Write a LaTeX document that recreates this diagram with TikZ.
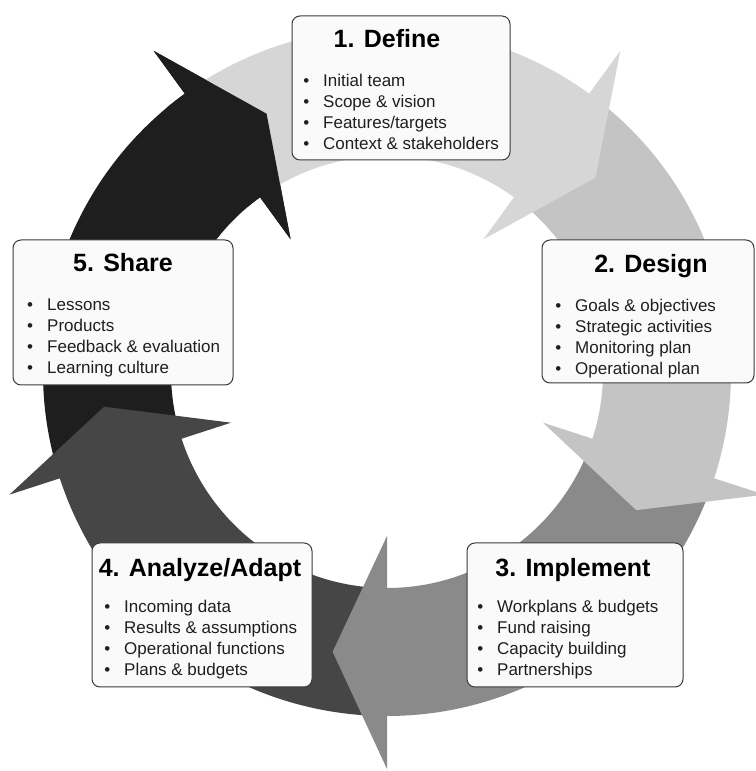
\documentclass[tikz,border=0pt]{standalone}
\usepackage{fontspec}
\setmainfont{Liberation Sans}
\usetikzlibrary{calc}
\definecolor{cDefine}{HTML}{D6D6D6}
\definecolor{cDesign}{HTML}{C4C4C4}
\definecolor{cImpl}{HTML}{8A8A8A}
\definecolor{cAnal}{HTML}{464646}
\definecolor{cShare}{HTML}{1E1E1E}
\definecolor{boxfill}{HTML}{FAFAFA}
\definecolor{boxline}{HTML}{3A3A3A}
\newcommand\myb{\llap{\textbullet\hspace{14pt}}}
\begin{document}
\begin{tikzpicture}[x=1pt,y=1pt,
  box/.style={draw=boxline, line width=1pt, fill=boxfill, rounded corners=8pt, inner sep=0pt},
  ttl/.style={font=\fontsize{25}{28}\selectfont\bfseries, inner sep=0pt, anchor=base, text=black},
  lst/.style={font=\fontsize{17}{20.7}\selectfont, inner sep=0pt, anchor=base west, text=black!88},
  ]
\useasboundingbox (0,0) rectangle (755,771);
\fill[white] (0,0) rectangle (755,771);
\coordinate (C) at (387,399);
\def\Rout{344}\def\Rin{216}\def\Wout{397}\def\Win{164}\def\Tip{285}
% arrows drawn in reverse order so each head lies over the next tail
\foreach \a/\col in {-234/cShare,-162/cAnal,-90/cImpl,-18/cDesign,54/cDefine}{
  \pgfmathsetmacro\b{\a+72}
  \pgfmathsetmacro\t{\a-11}
  \fill[\col] ($(C)+(\b:\Rout)$) arc[start angle=\b, end angle=\a, radius=\Rout]
    -- ($(C)+(\a:\Wout)$) -- ($(C)+(\t:\Tip)$) -- ($(C)+(\a:\Win)$)
    -- ($(C)+(\a:\Rin)$) arc[start angle=\a, end angle=\b, radius=\Rin] -- cycle;
}
% head of the Share arrow (with a bit of its shaft) over the Define tail
\fill[cShare] ($(C)+(130:\Rout)$) arc[start angle=130, end angle=126, radius=\Rout]
  -- ($(C)+(126:\Wout)$) -- ($(C)+(115:\Tip)$) -- ($(C)+(126:\Win)$)
  -- ($(C)+(126:\Rin)$) arc[start angle=126, end angle=130, radius=\Rin] -- cycle;

% boxes
\node[box, minimum width=218, minimum height=144] (b1) at (401,683) {};
\node[box, minimum width=212, minimum height=143] (b2) at (648,459.5) {};
\node[box, minimum width=216, minimum height=144] (b3) at (575,156) {};
\node[box, minimum width=220, minimum height=144] (b4) at (202,156) {};
\node[box, minimum width=220, minimum height=145] (b5) at (123,458.5) {};

% titles
\node[ttl] (t1) at (387,723) {1. Define};
\node[ttl] (t2) at (651,498) {2. Design};
\node[ttl] (t3) at (573,194) {3. Implement};
\node[ttl] (t4) at (200,194) {4. Analyze/Adapt};
\node[ttl] (t5) at (123,499) {5. Share};

% lists
\node[lst] (l1) at (323,684) {\begin{tabular}[t]{@{}l@{}}\myb Initial team\\\myb Scope \& vision\\\myb Features/targets\\\myb Context \& stakeholders\end{tabular}};
\node[lst] (l2) at (575,459) {\begin{tabular}[t]{@{}l@{}}\myb Goals \& objectives\\\myb Strategic activities\\\myb Monitoring plan\\\myb Operational plan\end{tabular}};
\node[lst] (l3) at (497,158) {\begin{tabular}[t]{@{}l@{}}\myb Workplans \& budgets\\\myb Fund raising\\\myb Capacity building\\\myb Partnerships\end{tabular}};
\node[lst] (l4) at (124,158) {\begin{tabular}[t]{@{}l@{}}\myb Incoming data\\\myb Results \& assumptions\\\myb Operational functions\\\myb Plans \& budgets\end{tabular}};
\node[lst] (l5) at (47,460) {\begin{tabular}[t]{@{}l@{}}\myb Lessons\\\myb Products\\\myb Feedback \& evaluation\\\myb Learning culture\end{tabular}};
\end{tikzpicture}
\end{document}
